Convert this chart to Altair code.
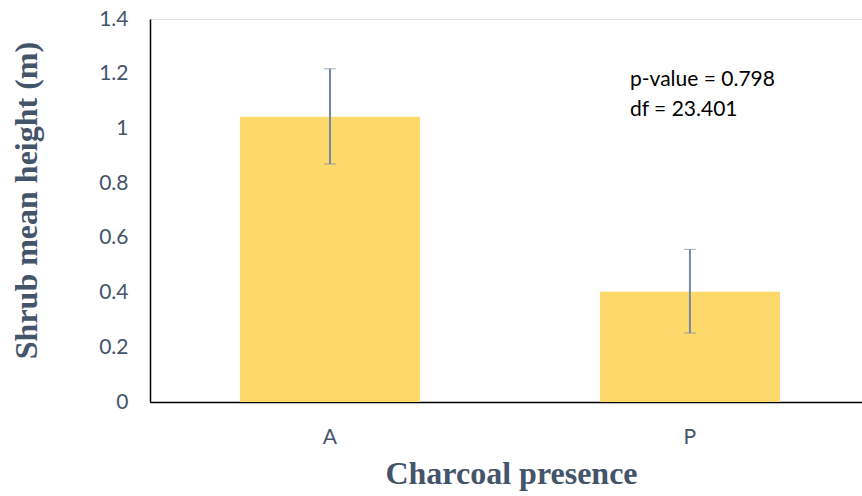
import altair as alt
import pandas as pd

categories = ["A", "P"]
means = [1.043, 0.403]
err_low = [0.870, 0.252]
err_high = [1.218, 0.558]
annotation = ["p-value = 0.798", "df = 23.401"]
y_ticks = [0, 0.2, 0.4, 0.6, 0.8, 1, 1.2, 1.4]

df = pd.DataFrame({"cat": categories, "mean": means, "lo": err_low, "hi": err_high})

TXT = "#44546A"
YTITLE = "Shrub mean height (m)"

x_scale = alt.Scale(paddingInner=0.5, paddingOuter=0.239, align=0.523)
x_enc = alt.X("cat:N", scale=x_scale,
              axis=alt.Axis(title="Charcoal presence", labelAngle=0, ticks=False,
                            domainColor="black", domainWidth=1.5,
                            labelFont="Lato", labelFontSize=21, labelColor=TXT,
                            labelPadding=24,
                            titleFont="Liberation Serif", titleFontSize=32, titleFontWeight="bold",
                            titleColor=TXT, titleX=361, titleY=71, titleBaseline="middle"))

y_scale = alt.Scale(domain=[0, 1.4], nice=False)
y_axis = alt.Axis(title=YTITLE, values=y_ticks, format="~g",
                  grid=False, ticks=False, domainColor="black", domainWidth=1.5,
                  labelFont="Lato", labelFontSize=21, labelColor=TXT, labelPadding=22,
                  titleFont="Liberation Serif", titleFontSize=32, titleFontWeight="bold",
                  titleColor=TXT, titleX=-124, titleY=181, titleBaseline="middle",
                  titleAngle=-90, titleAlign="center")

bars = alt.Chart(df).mark_bar(color="#FDD86A").encode(
    x=x_enc,
    y=alt.Y("mean:Q", scale=y_scale, axis=y_axis, title=YTITLE),
)

err = alt.Chart(df).mark_errorbar(ticks=alt.MarkConfig(size=12, color="#7389AA", strokeWidth=2),
                                  rule=alt.MarkConfig(color="#7389AA", strokeWidth=2)).encode(
    x=alt.X("cat:N", scale=x_scale),
    y=alt.Y("lo:Q", scale=y_scale, axis=y_axis, title=YTITLE),
    y2="hi:Q",
)

text = alt.Chart(pd.DataFrame({"t": [annotation]})).mark_text(
    align="left", baseline="middle", font="Lato", fontSize=21, color="black", lineHeight=30
).encode(
    x=alt.value(480),
    y=alt.value(61),
    text="t",
)

chart = alt.layer(bars, err, text).properties(
    width=712, height=383,
    padding={"left": 150, "top": 19, "right": 0, "bottom": 94},
    autosize=alt.AutoSizeParams(type="none"),
).configure_view(stroke=None).configure(background="white")

chart.save("out.html", embed_options={"renderer": "svg", "actions": False})
